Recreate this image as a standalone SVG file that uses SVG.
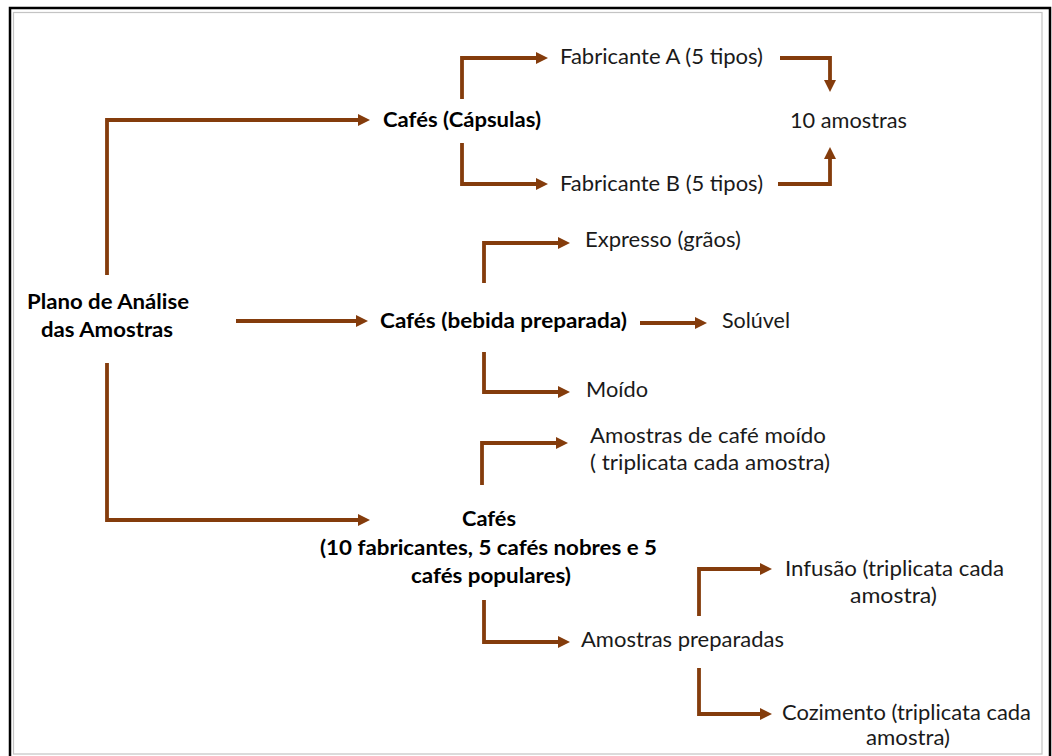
<svg xmlns="http://www.w3.org/2000/svg" width="1052" height="756" viewBox="0 0 1052 756">
  <style>
    .t { font-family: Lato, "Noto Sans", "Liberation Sans", sans-serif; font-size: 21.5px; fill: #1a1a1a; }
    .b { font-weight: bold; fill: #000; }
    .m { text-anchor: middle; }
    .c { fill: none; stroke: #843C0C; stroke-width: 3.8; stroke-linejoin: miter; stroke-linecap: butt; marker-end: url(#ah); }
  </style>
  <defs>
    <marker id="ah" markerUnits="userSpaceOnUse" markerWidth="14" markerHeight="14" refX="0" refY="6.5" orient="auto" overflow="visible">
      <path d="M0,0.5 L12,6.5 L0,12.5 z" fill="#843C0C"/>
    </marker>
  </defs>

  <!-- frame -->
  <rect x="0" y="0" width="1052" height="756" fill="#ffffff"/>
  <rect x="10" y="8" width="1040" height="760" fill="none" stroke="#000" stroke-width="2.5"/>
  <rect x="13.5" y="12.5" width="1028.5" height="741.5" fill="none" stroke="#c4c4c4" stroke-width="1.2"/>

  <!-- connectors -->
  <g id="connectors">
    <path class="c" d="M107,275 V120 H358"/>
    <path class="c" d="M236,321 H356"/>
    <path class="c" d="M107,363 V520 H358"/>

    <path class="c" d="M462,99 V58 H536"/>
    <path class="c" d="M462,143 V184 H536"/>
    <path class="c" d="M780,58 H830 V80"/>
    <path class="c" d="M778,184 H830 V159"/>

    <path class="c" d="M484,283 V243 H558"/>
    <path class="c" d="M640,323 H695"/>
    <path class="c" d="M484,352 V392 H558"/>

    <path class="c" d="M482,485 V443 H556"/>
    <path class="c" d="M484,600 V642 H558"/>

    <path class="c" d="M699,616 V569 H760"/>
    <path class="c" d="M699,668 V714 H760"/>
  </g>

  <!-- nodes -->
  <g id="plano">
    <text class="t b m" x="108" y="309" textLength="162" lengthAdjust="spacingAndGlyphs">Plano de Análise</text>
    <text class="t b m" x="107" y="337" textLength="132" lengthAdjust="spacingAndGlyphs">das Amostras</text>
  </g>
  <g id="capsulas">
    <text class="t b" x="383" y="127" textLength="158" lengthAdjust="spacingAndGlyphs">Cafés (Cápsulas)</text>
  </g>
  <g id="fabricante-a">
    <text class="t" x="560" y="64" textLength="203" lengthAdjust="spacingAndGlyphs">Fabricante A (5 tipos)</text>
  </g>
  <g id="fabricante-b">
    <text class="t" x="560" y="191" textLength="203" lengthAdjust="spacingAndGlyphs">Fabricante B (5 tipos)</text>
  </g>
  <g id="dez-amostras">
    <text class="t" x="790" y="128" textLength="117" lengthAdjust="spacingAndGlyphs">10 amostras</text>
  </g>
  <g id="bebida">
    <text class="t b" x="380" y="328" textLength="247" lengthAdjust="spacingAndGlyphs">Cafés (bebida preparada)</text>
  </g>
  <g id="expresso">
    <text class="t" x="585" y="247" textLength="156" lengthAdjust="spacingAndGlyphs">Expresso (grãos)</text>
  </g>
  <g id="soluvel">
    <text class="t" x="722" y="328" textLength="68" lengthAdjust="spacingAndGlyphs">Solúvel</text>
  </g>
  <g id="moido">
    <text class="t" x="586" y="397" textLength="62" lengthAdjust="spacingAndGlyphs">Moído</text>
  </g>
  <g id="amostras-moido">
    <text class="t" x="590" y="443" textLength="236" lengthAdjust="spacingAndGlyphs">Amostras de café moído</text>
    <text class="t" x="590" y="470" textLength="240" lengthAdjust="spacingAndGlyphs">( triplicata cada amostra)</text>
  </g>
  <g id="cafes-fabricantes">
    <text class="t b m" x="489" y="526" textLength="54" lengthAdjust="spacingAndGlyphs">Cafés</text>
    <text class="t b m" x="488.5" y="555" textLength="337" lengthAdjust="spacingAndGlyphs">(10 fabricantes, 5 cafés nobres e 5</text>
    <text class="t b m" x="491" y="583" textLength="160" lengthAdjust="spacingAndGlyphs">cafés populares)</text>
  </g>
  <g id="amostras-preparadas">
    <text class="t" x="581" y="647" textLength="203" lengthAdjust="spacingAndGlyphs">Amostras preparadas</text>
  </g>
  <g id="infusao">
    <text class="t m" x="894.5" y="576" textLength="219" lengthAdjust="spacingAndGlyphs">Infusão (triplicata cada</text>
    <text class="t m" x="893.5" y="603" textLength="87" lengthAdjust="spacingAndGlyphs">amostra)</text>
  </g>
  <g id="cozimento">
    <text class="t m" x="906.5" y="720" textLength="249" lengthAdjust="spacingAndGlyphs">Cozimento (triplicata cada</text>
    <text class="t m" x="908" y="745" textLength="84" lengthAdjust="spacingAndGlyphs">amostra)</text>
  </g>
</svg>
